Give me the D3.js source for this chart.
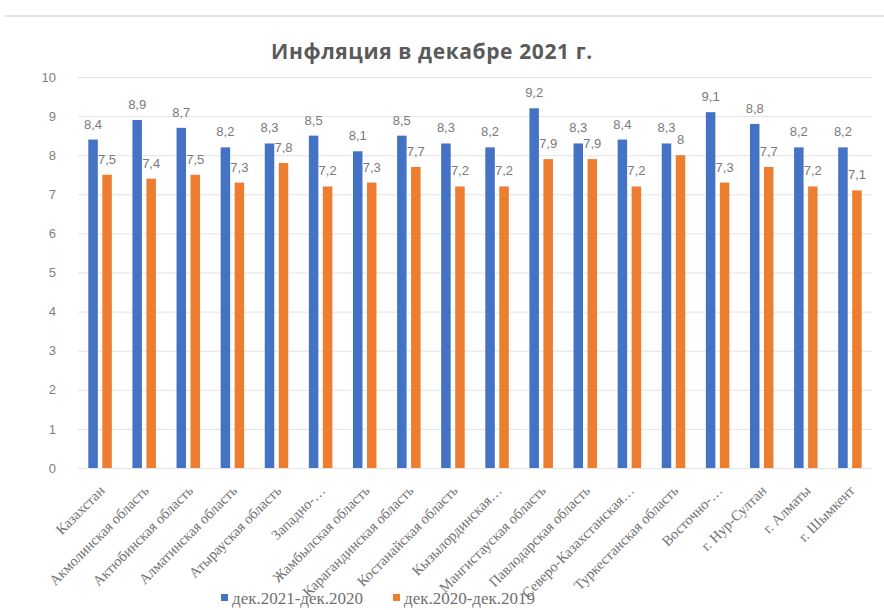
<!DOCTYPE html>
<html><head><meta charset="utf-8">
<script src="https://cdn.jsdelivr.net/npm/d3@7"></script>
<style>body{margin:0;background:#fff}</style>
</head><body>
<svg id="chart" width="884" height="610"></svg>
<script>
const categories = ["Казахстан","Акмолинская область","Актюбинская область","Алматинская область","Атырауская область","Западно-…","Жамбылская область","Карагандинская область","Костанайская область","Кызылординская…","Мангистауская область","Павлодарская область","Северо-Казахстанская…","Туркестанская область","Восточно-…","г. Нур-Султан","г. Алматы","г. Шымкент"];
const series1 = [8.4,8.9,8.7,8.2,8.3,8.5,8.1,8.5,8.3,8.2,9.2,8.3,8.4,8.3,9.1,8.8,8.2,8.2];
const series2 = [7.5,7.4,7.5,7.3,7.8,7.2,7.3,7.7,7.2,7.2,7.9,7.9,7.2,8,7.3,7.7,7.2,7.1];
const seriesNames = ["дек.2021-дек.2020","дек.2020-дек.2019"];
const yTicks = [0,1,2,3,4,5,6,7,8,9,10];
const title = "Инфляция в декабре 2021 г.";

const colors = ["#4472C4","#ED7D31"];
const serif = "'Liberation Serif', 'DejaVu Serif', serif";
const sans = "'Liberation Sans', Arial, sans-serif";
const svg = d3.select("#chart");
const mLeft = 78, mRight = 872, mTop = 77, mBottom = 468;

svg.append("line").attr("x1",5).attr("x2",884).attr("y1",16).attr("y2",16)
  .attr("stroke","#d9d9d9").attr("stroke-width",1.5);

const x = d3.scaleBand().domain(categories).range([mLeft,mRight]).paddingInner(0).paddingOuter(0);
const y = d3.scaleLinear().domain([0,10]).range([mBottom,mTop]);

// gridlines
svg.append("g").selectAll("line").data(yTicks).join("line")
  .attr("x1",mLeft).attr("x2",mRight)
  .attr("y1",d=>y(d)+0.5).attr("y2",d=>y(d)+0.5)
  .attr("stroke","#e3e3e3").attr("stroke-width",1);

// y axis labels
const yAxis = d3.axisLeft(y).tickValues(yTicks).tickSize(0).tickPadding(0).tickFormat(d3.format("d"));
const gy = svg.append("g").attr("transform",`translate(${mLeft-22},0)`).call(yAxis);
gy.select(".domain").remove();
gy.attr("font-family",sans);
gy.selectAll("text").attr("fill","#7f7f7f").style("font-family",sans).attr("font-size",13);

const bw = 9.5, gap = 4.5;
const offs = [-(gap/2+bw), gap/2];
const data = [series1, series2];
data.forEach((s,si)=>{
  const g = svg.append("g");
  g.selectAll("rect").data(s).join("rect")
    .attr("x",(d,i)=>x(categories[i])+x.bandwidth()/2+offs[si])
    .attr("width",bw)
    .attr("y",d=>y(d)).attr("height",d=>y(0)-y(d))
    .attr("fill",colors[si]);
  g.selectAll("text").data(s).join("text")
    .attr("x",(d,i)=>x(categories[i])+x.bandwidth()/2+offs[si]+bw/2)
    .attr("y",d=>y(d)-11)
    .attr("text-anchor","middle")
    .attr("fill","#7a7a7a")
    .style("font-family",sans)
    .attr("font-size",13)
    .text(d=>String(d).replace(".",","));
});

// x axis labels
const xAxis = d3.axisBottom(x).tickSize(0).tickPadding(0);
const gx = svg.append("g").attr("transform",`translate(0,${mBottom})`).call(xAxis);
gx.select(".domain").remove();
gx.attr("font-family",serif);
gx.selectAll("text")
  .style("font-family",serif)
  .attr("font-size",14.5).attr("fill","#6f6f6f")
  .attr("text-anchor","end")
  .attr("transform","translate(2,20) rotate(-45)")
  .attr("dy","0.35em").attr("y",0).attr("x",0);

// title
svg.append("text").attr("x",432).attr("y",59).attr("text-anchor","middle")
  .style("font-family","'Open Sans', 'Liberation Sans', sans-serif").attr("font-weight","bold")
  .attr("font-size",21).attr("letter-spacing",0.6).attr("fill","#5a5a5a").text(title);

// legend
const legX = [221,393];
seriesNames.forEach((n,i)=>{
  svg.append("rect").attr("x",legX[i]).attr("y",594).attr("width",7).attr("height",7).attr("fill",colors[i]);
  svg.append("text").attr("x",legX[i]+11).attr("y",604)
    .style("font-family",serif).attr("font-size",17)
    .attr("fill","#6f6f6f").text(n);
});
</script>
</body></html>
